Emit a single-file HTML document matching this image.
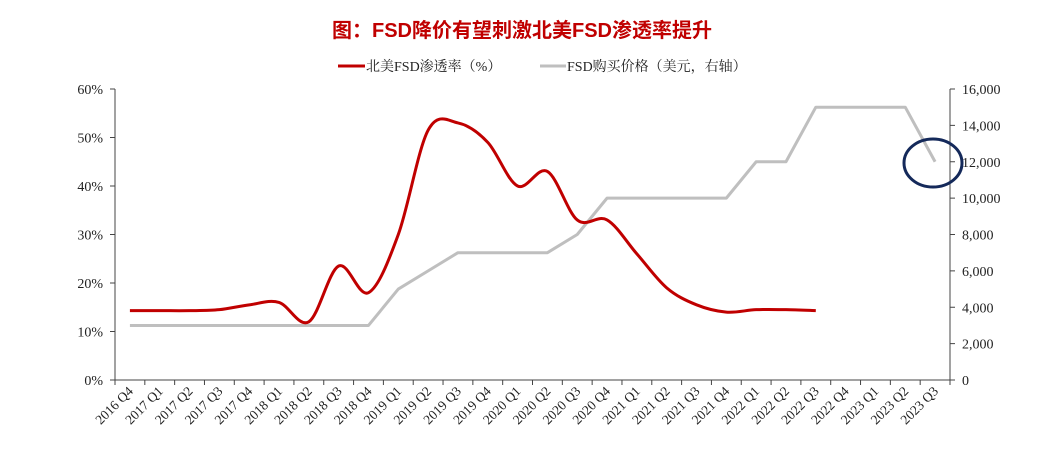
<!DOCTYPE html>
<html><head><meta charset="utf-8"><style>
body{margin:0;background:#fff;width:1045px;height:467px;overflow:hidden}
svg text{font-family:"Liberation Serif","Noto Serif CJK SC",serif;fill:#222}
</style></head><body>
<svg id="chart" width="1045" height="467" xmlns="http://www.w3.org/2000/svg">
<text x="522" y="37" text-anchor="middle" style="font-family:'Liberation Sans','Noto Sans CJK SC',sans-serif;font-weight:bold;font-size:20px;fill:#c00000">图：FSD降价有望刺激北美FSD渗透率提升</text>
<g>
<line x1="338" y1="66" x2="365" y2="66" stroke="#c00000" stroke-width="3"/>
<text x="366" y="71" font-size="14">北美FSD渗透率（%）</text>
<line x1="540" y1="66" x2="566" y2="66" stroke="#bfbfbf" stroke-width="3"/>
<text x="567" y="71" font-size="14">FSD购买价格（美元，右轴）</text>
</g>
<g id="axes"></g>
<g id="marks"></g>
<ellipse cx="933" cy="163" rx="29" ry="24" fill="none" stroke="#14295a" stroke-width="3"/>
</svg>
<script>
const categories=["2016 Q4","2017 Q1","2017 Q2","2017 Q3","2017 Q4","2018 Q1","2018 Q2","2018 Q3","2018 Q4","2019 Q1","2019 Q2","2019 Q3","2019 Q4","2020 Q1","2020 Q2","2020 Q3","2020 Q4","2021 Q1","2021 Q2","2021 Q3","2021 Q4","2022 Q1","2022 Q2","2022 Q3","2022 Q4","2023 Q1","2023 Q2","2023 Q3"];
const penetration=[14.3,14.3,14.3,14.5,15.5,16,12,23.5,18,30,51.5,53,49,40,43,33,33,26,19,15.5,14,14.5,14.5,14.3];
const price=[3000,3000,3000,3000,3000,3000,3000,3000,3000,5000,6000,7000,7000,7000,7000,8000,10000,10000,10000,10000,10000,12000,12000,15000,15000,15000,15000,12000];
const leftTicks=["0%","10%","20%","30%","40%","50%","60%"];
const rightTicks=["0","2,000","4,000","6,000","8,000","10,000","12,000","14,000","16,000"];
const X0=115,X1=950,Y0=380,Y1=89;
const bw=(X1-X0)/categories.length;
const xs=i=>X0+bw*(i+0.5);
const yl=v=>Y0-(v/60)*(Y0-Y1);
const yr=v=>Y0-(v/16000)*(Y0-Y1);
const NS="http://www.w3.org/2000/svg";
function mk(tag,attrs,parent,txt){const e=document.createElementNS(NS,tag);for(const k in attrs)e.setAttribute(k,attrs[k]);if(txt!=null)e.textContent=txt;parent.appendChild(e);return e;}
const ax=document.getElementById('axes'),mg=document.getElementById('marks');
let e;
e=mk('line',{x1:X0,y1:Y1,x2:X0,y2:Y0,stroke:'#444'},ax);


e=mk('line',{x1:X1,y1:Y1,x2:X1,y2:Y0,stroke:'#444'},ax);


e=mk('line',{x1:X0,y1:Y0,x2:X1,y2:Y0,stroke:'#444'},ax);


leftTicks.forEach((t,i)=>{const y=yl(i*10);
mk('line',{x1:X0-5,y1:y,x2:X0,y2:y,stroke:'#444'},ax);
e=mk('text',{x:X0-12,y:y+5,'text-anchor':'end','font-size':14},ax,t);

});
rightTicks.forEach((t,i)=>{const y=yr(i*2000);
mk('line',{x1:X1,y1:y,x2:X1+5,y2:y,stroke:'#444'},ax);
e=mk('text',{x:X1+12,y:y+5,'font-size':14},ax,t);

});
categories.forEach((c,i)=>{const x=X0+bw*i;
mk('line',{x1:x,y1:Y0,x2:x,y2:Y0+5,stroke:'#444'},ax);
const cx=xs(i)+4,cy=Y0+12;
e=mk('text',{x:cx,y:cy,'text-anchor':'end','font-size':13.5,transform:`rotate(-45 ${cx} ${cy})`},ax,c);

});
mk('line',{x1:X1,y1:Y0,x2:X1,y2:Y0+5,stroke:'#444'},ax);
const pp=price.map((v,i)=>`${xs(i)},${yr(v)}`).join(' ');
e=mk('polyline',{points:pp,fill:'none',stroke:'#bfbfbf','stroke-width':3,'stroke-linejoin':'round'},mg);


const pts=penetration.map((v,i)=>[xs(i),yl(v)]);
let d=`M${pts[0][0]},${pts[0][1]}`;
for(let i=0;i<pts.length-1;i++){const p0=pts[Math.max(i-1,0)],p1=pts[i],p2=pts[i+1],p3=pts[Math.min(i+2,pts.length-1)];const t=6;
d+=` C${p1[0]+(p2[0]-p0[0])/t},${p1[1]+(p2[1]-p0[1])/t} ${p2[0]-(p3[0]-p1[0])/t},${p2[1]-(p3[1]-p1[1])/t} ${p2[0]},${p2[1]}`;}
e=mk('path',{d:d,fill:'none',stroke:'#c00000','stroke-width':3},mg);


</script>
</body></html>
